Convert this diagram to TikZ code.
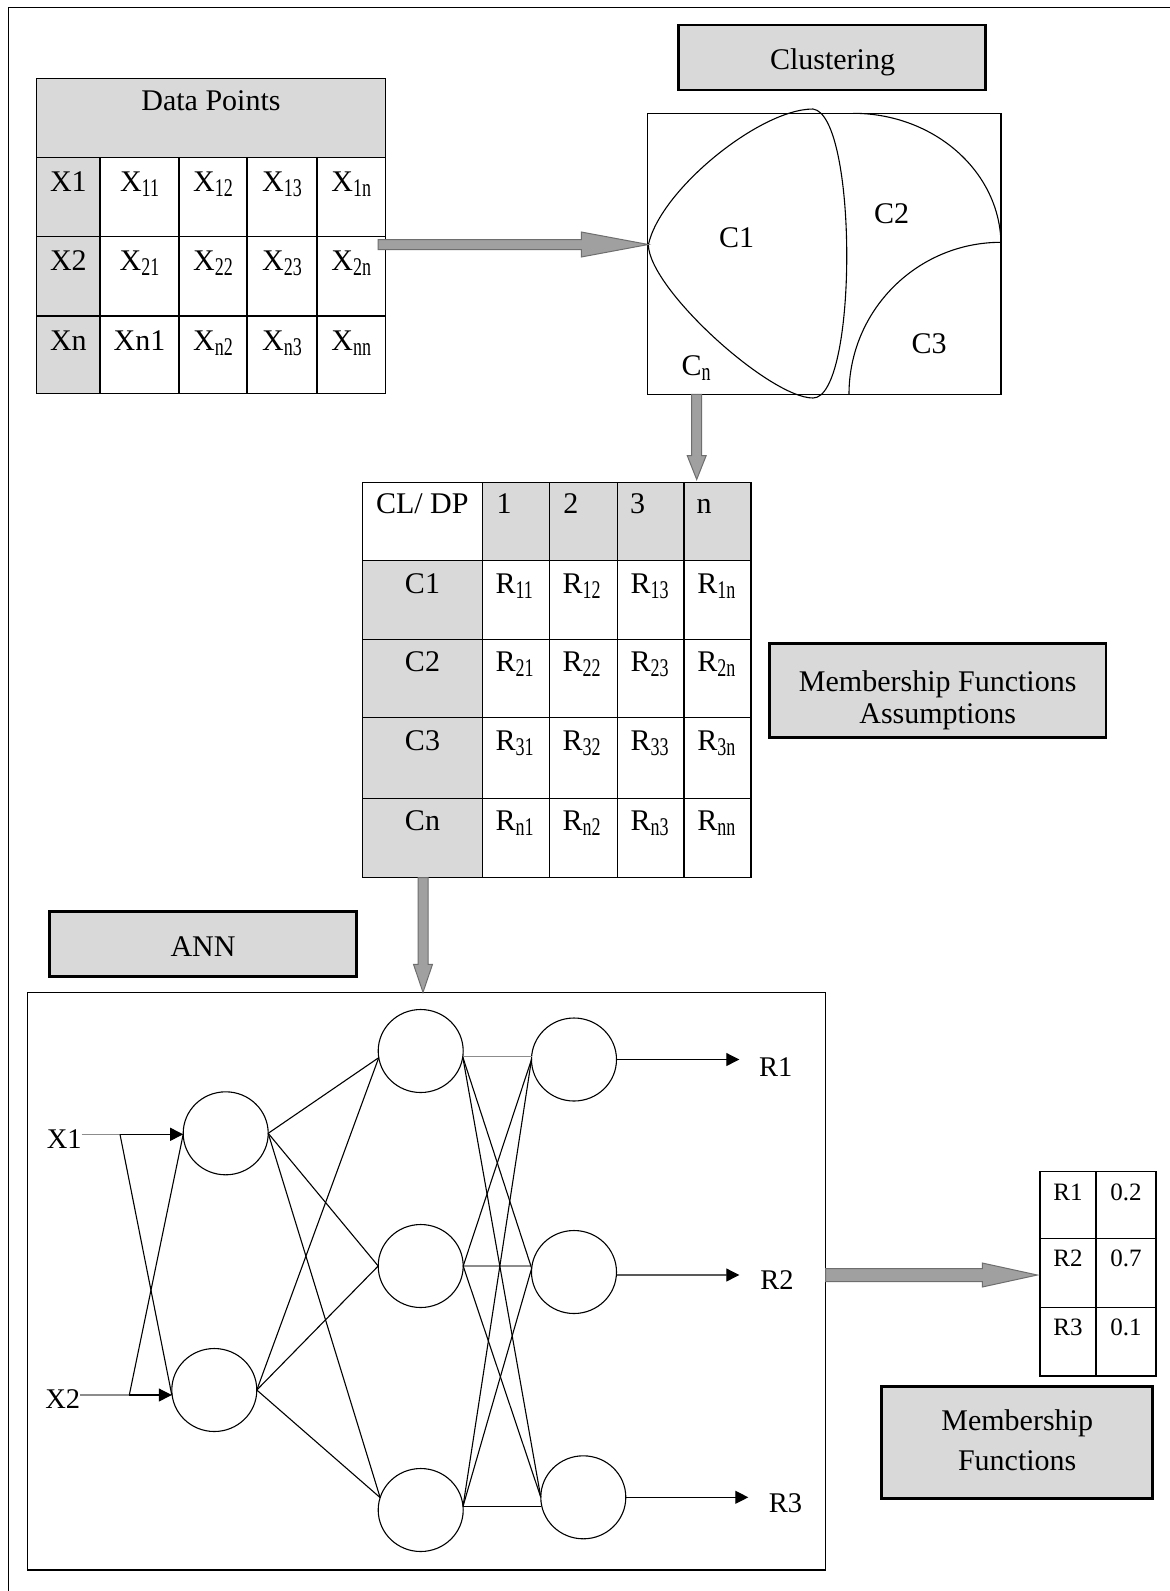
\documentclass[tikz,border=0pt]{standalone}
\usepackage{fontspec}
\usepackage{graphicx}
\setmainfont{Liberation Serif}
\usetikzlibrary{calc,arrows.meta,shapes.geometric}

\definecolor{cellgray}{RGB}{217,217,217}
\definecolor{arrowfill}{RGB}{160,160,160}
\definecolor{arrowedge}{RGB}{110,110,110}
\definecolor{softwire}{RGB}{140,140,140}

% squeezed, lowered index used in the tables
\newcommand{\sbs}[1]{\raisebox{-5pt}{\scalebox{0.6}[0.85]{#1}}}

% block arrows: start, tip, shaft half-width, head half-width, head length
\newcommand{\hblock}[5]{%
  \filldraw[blockarrow] ($(#1)+(0,-#3)$) -- ($(#2)+(-#5,-#3)$) -- ($(#2)+(-#5,-#4)$) -- (#2)
    -- ($(#2)+(-#5,#4)$) -- ($(#2)+(-#5,#3)$) -- ($(#1)+(0,#3)$) -- cycle;}
\newcommand{\vblock}[5]{%
  \filldraw[blockarrow] ($(#1)+(-#3,0)$) -- ($(#2)+(-#3,-#5)$) -- ($(#2)+(-#4,-#5)$) -- (#2)
    -- ($(#2)+(#4,-#5)$) -- ($(#2)+(#3,-#5)$) -- ($(#1)+(#3,0)$) -- cycle;}

\begin{document}
\begin{tikzpicture}[x=1pt,y=-1pt,
  every node/.style={inner sep=0pt, outer sep=0pt},
  txt/.style={anchor=base},
  txtw/.style={anchor=base west},
  tabline/.style={line width=1.4pt},
  labelbox/.style={draw, line width=2.8pt, fill=cellgray},
  blockarrow/.style={fill=arrowfill, draw=arrowedge, line width=1pt, line join=miter},
  neuron/.style={ellipse, draw, line width=1.1pt, minimum width=85pt, minimum height=83pt},
  wire/.style={line width=1.1pt},
  wirehead/.style={-{Triangle[length=13pt,width=13pt]}},
  small/.style={font=\fontsize{25}{30}\selectfont},
  annlabel/.style={font=\fontsize{28.5}{34}\selectfont},
  font=\fontsize{30}{36}\selectfont]

\fill[white] (0,0) rectangle (1170,1591);
\useasboundingbox (0,0) rectangle (1170,1591);

% page frame
\draw[line width=1.6pt] (8.3,1591) -- (8.3,7.5) -- (1170,7.5);

% ---------- data points table ----------
\fill[cellgray] (36.7,78.3) rectangle (385.7,157.3);
\fill[cellgray] (36.7,157.3) rectangle (100,393.3);
\draw[tabline] (36.7,78.3) rectangle (385.7,393.3);
\foreach \y in {157.3,236.7,316} \draw[tabline] (36.7,\y) -- (385.7,\y);
\foreach \x in {100,179,247,317} \draw[tabline] (\x,157.3) -- (\x,393.3);

\node[txt] (dp) at (211,110) {Data Points};
\node[txt] (x1)  at (68.4,191.3)  {X1};
\node[txt] (x11) at (139.5,191.3) {X\sbs{11}};
\node[txt] (x12) at (213,191.3)   {X\sbs{12}};
\node[txt] (x13) at (282,191.3)   {X\sbs{13}};
\node[txt] (x1n) at (351.3,191.3) {X\sbs{1n}};
\node[txt] (x2)  at (68.4,270.7)  {X2};
\node[txt] (x21) at (139.5,270.7) {X\sbs{21}};
\node[txt] (x22) at (213,270.7)   {X\sbs{22}};
\node[txt] (x23) at (282,270.7)   {X\sbs{23}};
\node[txt] (x2n) at (351.3,270.7) {X\sbs{2n}};
\node[txt] (xn)  at (68.4,350)    {Xn};
\node[txt] (xn1) at (139.5,350)   {Xn1};
\node[txt] (xn2) at (213,350)     {X\sbs{n2}};
\node[txt] (xn3) at (282,350)     {X\sbs{n3}};
\node[txt] (xnn) at (351.3,350)   {X\sbs{nn}};

% ---------- clustering ----------
\node[labelbox, minimum width=307.4pt, minimum height=65pt] (clubox) at (832,57.5) {};
\node[txt] (clu) at (832.5,69.5) {Clustering};

\node[draw, line width=1.3pt, minimum width=353.3pt, minimum height=281pt] (csq) at (824.35,253.8) {};
% cluster C1
\draw[line width=1.1pt] (648.3,245) .. controls (660,190) and (760,109) .. (813,109)
  .. controls (858,115) and (858,398) .. (813,398)
  .. controls (770,398) and (650,290) .. cycle;
% cluster C2 and C3 borders
\draw[line width=1.1pt] (853,113.3) arc[start angle=-90, end angle=0, x radius=148, y radius=132];
\draw[line width=1.1pt] (849,394.3) arc[start angle=180, end angle=270, radius=152];

\node[txt] (c1) at (736.5,247.3) {C1};
\node[txt] (c2) at (891.7,223.3) {C2};
\node[txt] (c3) at (929,353.3) {C3};
\node[txtw] (cn) at (681.7,375.8) {C\sbs{n}};

% ---------- membership table ----------
\fill[cellgray] (482.3,482.7) rectangle (751,560.7);
\fill[cellgray] (362.7,560.7) rectangle (482.3,877.7);
\draw[tabline] (362.7,482.7) rectangle (751,877.7);
\foreach \y in {560.7,639.3,717.7,798.3} \draw[tabline] (362.7,\y) -- (751,\y);
\foreach \x in {482.3,549.3,617.3,684} \draw[tabline] (\x,482.7) -- (\x,877.7);

\node[txtw] (cldp) at (376,513) {CL/ DP};
\node[txtw] (h1) at (496.7,513) {1};
\node[txtw] (h2) at (563.3,513) {2};
\node[txtw] (h3) at (630,513) {3};
\node[txtw] (hn) at (696.7,513) {n};

\node[txt] (rc1) at (422.5,593.2) {C1};
\node[txt] (rc2) at (422.5,671.8) {C2};
\node[txt] (rc3) at (422.5,750.2) {C3};
\node[txt] (rcn) at (422.5,830.8) {Cn};

\node[txtw] (r11) at (495.6,593.2) {R\sbs{11}};
\node[txtw] (r12) at (562.6,593.2) {R\sbs{12}};
\node[txtw] (r13) at (630.6,593.2) {R\sbs{13}};
\node[txtw] (r1n) at (697.3,593.2) {R\sbs{1n}};
\node[txtw] (r21) at (495.6,671.8) {R\sbs{21}};
\node[txtw] (r22) at (562.6,671.8) {R\sbs{22}};
\node[txtw] (r23) at (630.6,671.8) {R\sbs{23}};
\node[txtw] (r2n) at (697.3,671.8) {R\sbs{2n}};
\node[txtw] (r31) at (495.6,750.2) {R\sbs{31}};
\node[txtw] (r32) at (562.6,750.2) {R\sbs{32}};
\node[txtw] (r33) at (630.6,750.2) {R\sbs{33}};
\node[txtw] (r3n) at (697.3,750.2) {R\sbs{3n}};
\node[txtw] (rn1) at (495.6,830.8) {R\sbs{n1}};
\node[txtw] (rn2) at (562.6,830.8) {R\sbs{n2}};
\node[txtw] (rn3) at (630.6,830.8) {R\sbs{n3}};
\node[txtw] (rnn) at (697.3,830.8) {R\sbs{nn}};

% ---------- membership functions assumptions ----------
\node[labelbox, minimum width=336.7pt, minimum height=94pt] (mfabox) at (937.65,690.3) {};
\node[txt] (mfa1) at (937.7,691.7) {Membership Functions};
\node[txt] (mfa2) at (937.7,723.3) {Assumptions};

% ---------- ANN ----------
\node[labelbox, minimum width=307.4pt, minimum height=65pt] (annbox) at (203,944.2) {};
\node[txt] (ann) at (203,956.7) {ANN};

\node[draw, line width=1.4pt, minimum width=798.4pt, minimum height=577.7pt] (annframe) at (426.5,1281.15) {};

\node[neuron] (L1a) at (225.7,1133.3) {};
\node[neuron] (L1b) at (214.3,1390) {};
\node[neuron] (L2a) at (420.7,1051) {};
\node[neuron] (L2b) at (420.7,1266) {};
\node[neuron] (L2c) at (420.7,1510) {};
\node[neuron] (L3a) at (574,1059.5) {};
\node[neuron] (L3b) at (574,1272) {};
\node[neuron] (L3c) at (583.3,1497.3) {};

\node[txt, annlabel] (X1) at (64.2,1148.3) {X1};
\node[txt, annlabel] (X2) at (62.8,1408.3) {X2};
\node[txt, annlabel] (R1) at (775.8,1076.7) {R1};
\node[txt, annlabel] (R2) at (777,1289.3) {R2};
\node[txt, annlabel] (R3) at (785.5,1512.3) {R3};

\coordinate (j1) at (120,1134.3);
\coordinate (j2) at (129.3,1395);
\draw[wire, draw=softwire] (X1.east |- j1) -- (j1);
\draw[wire, draw=softwire] (X2.east |- j2) -- (j2);
\draw[wire, wirehead] (j1) -- (j1 -| L1a.west);
\draw[wire, wirehead] (j2) -- (j2 -| L1b.west);
\draw[wire] (j1) -- (j2 -| L1b.west);
\draw[wire] (j2) -- (j1 -| L1a.west);

% input layer to hidden layer
\foreach \s in {L1a,L1b} {
  \draw[wire] (\s.east) -- (L2a.189);
  \draw[wire] (\s.east) -- (L2b.west);
  \draw[wire] (\s.east) -- (L2c.163);
}
% hidden layer to output layer
\draw[wire, draw=softwire] (L2a.352) -- (L2a.352 -| L3a.west);
\draw[wire, draw=softwire] (L2b.east) -- (L2b.east -| L3b.west);
\draw[wire] (L2c.5) -- (L2c.5 -| L3c.west);
\draw[wire] (L2a.352) -- (L3b.175);
\draw[wire] (L2a.352) -- (L3c.west);
\draw[wire] (L2b.east) -- (L3a.west);
\draw[wire] (L2b.east) -- (L3c.west);
\draw[wire] (L2c.5) -- (L3a.west);
\draw[wire] (L2c.5) -- (L3b.175);

\coordinate (r1t) at (739.3,1059.5);
\coordinate (r2t) at (739.3,1275);
\coordinate (r3t) at (748.3,1497.3);
\draw[wire, wirehead] (L3a.east) -- (r1t);
\draw[wire, wirehead] (L3b.356) -- (r2t);
\draw[wire, wirehead] (L3c.east) -- (r3t);

% ---------- output memberships ----------
\draw[tabline] (1040,1171.7) rectangle (1156,1376);
\draw[tabline] (1096,1171.7) -- (1096,1376);
\foreach \y in {1238.3,1307.3} \draw[tabline] (1040,\y) -- (1156,\y);
\node[txt, small] (o1) at (1068,1200)   {R1};
\node[txt, small] (v1) at (1126,1200)   {0.2};
\node[txt, small] (o2) at (1068,1266.7) {R2};
\node[txt, small] (v2) at (1126,1266.7) {0.7};
\node[txt, small] (o3) at (1068,1335)   {R3};
\node[txt, small] (v3) at (1126,1335)   {0.1};

\node[labelbox, minimum width=271pt, minimum height=111.6pt] (mfbox) at (1017.2,1442.5) {};
\node[txt] (mf1) at (1017.2,1430) {Membership};
\node[txt] (mf2) at (1017.2,1470) {Functions};

% ---------- block arrows ----------
\coordinate (a1s) at (378,244.5);   \coordinate (a1t) at (648.3,244.5);
\coordinate (a2s) at (696.7,394.3); \coordinate (a2t) at (696.7,479.5);
\coordinate (a3s) at (423,877.7);   \coordinate (a3t) at (423,992.3);
\coordinate (a4s) at (825.7,1275);  \coordinate (a4t) at (1037.3,1275);
\hblock{a1s}{a1t}{5}{12.5}{67}
\vblock{a2s}{a2t}{5}{9.5}{24}
\vblock{a3s}{a3t}{5}{9.5}{28}
\hblock{a4s}{a4t}{6.5}{12}{55}

\end{tikzpicture}
\end{document}
